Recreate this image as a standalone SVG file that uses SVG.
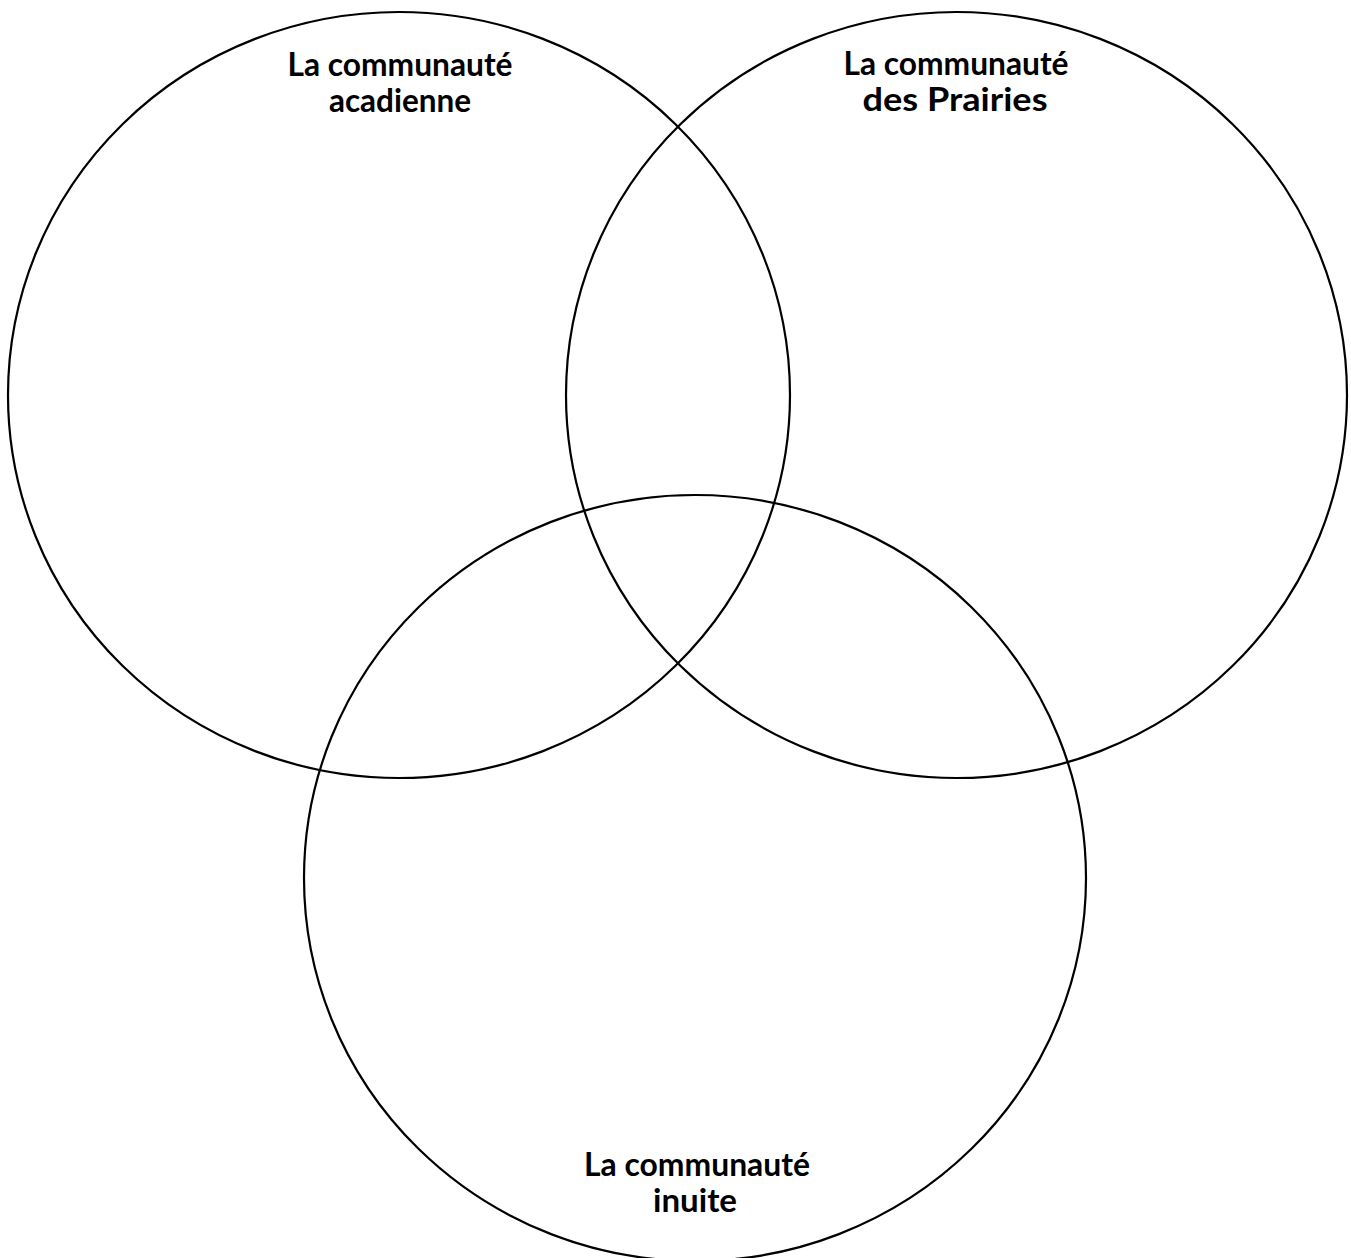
<svg xmlns="http://www.w3.org/2000/svg" width="1351" height="1258" viewBox="0 0 1351 1258">
<style>
.c{fill:none;stroke:#000;stroke-width:2.2}
.t{font-family:"Comic Sans MS","Lato","Liberation Sans",sans-serif;font-weight:bold;font-size:32px;fill:#000;text-anchor:middle}
</style>
<rect width="1351" height="1258" fill="#fff"/>
<g id="connectors"></g>
<g id="acadienne">
<ellipse class="c" cx="399" cy="395" rx="391" ry="383"/>
<text class="t" x="400" y="76" textLength="225" lengthAdjust="spacingAndGlyphs">La communauté</text>
<text class="t" x="400" y="112" textLength="142" lengthAdjust="spacingAndGlyphs">acadienne</text>
</g>
<g id="prairies">
<ellipse class="c" cx="956.5" cy="395" rx="390.5" ry="383"/>
<text class="t" x="956" y="75" textLength="225" lengthAdjust="spacingAndGlyphs">La communauté</text>
<text class="t" x="955" y="111" textLength="185" lengthAdjust="spacingAndGlyphs">des Prairies</text>
</g>
<g id="inuite">
<ellipse class="c" cx="695" cy="878" rx="391" ry="383"/>
<text class="t" x="697" y="1176" textLength="226" lengthAdjust="spacingAndGlyphs">La communauté</text>
<text class="t" x="695" y="1212" textLength="84" lengthAdjust="spacingAndGlyphs">inuite</text>
</g>
</svg>
